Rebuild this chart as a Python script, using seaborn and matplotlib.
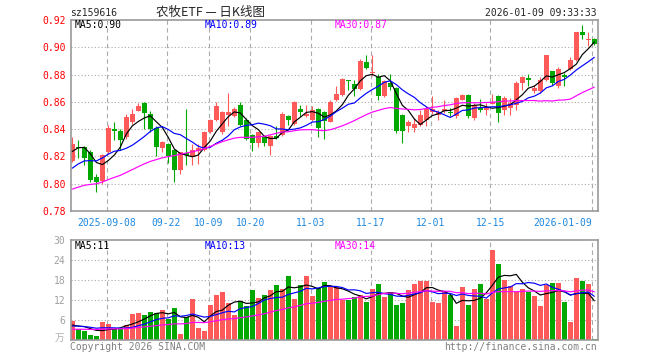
import numpy as np
import pandas as pd
import matplotlib
matplotlib.use("Agg")
import matplotlib.pyplot as plt
import seaborn as sns

sns.set_style("white")
plt.rcParams['font.family'] = ['DejaVu Sans Mono', 'Noto Sans CJK SC']

# ---------------- data ----------------
code = "sz159616"
title = "农牧ETF — 日K线图"
stamp = "2026-01-09 09:33:33"

tick_index = [6, 16, 23, 30, 40, 50, 60, 70, 87]
tick_labels = ["2025-09-08", "09-22", "10-09", "10-20", "11-03",
               "11-17", "12-01", "12-15", "2026-01-09"]

opens = [
    0.817, 0.827, 0.827, 0.823, 0.805, 0.802, 0.823, 0.840, 0.839, 0.834,
    0.845, 0.853, 0.859, 0.851, 0.841, 0.826, 0.829, 0.8245, 0.810, 0.8225,
    0.8197, 0.8241, 0.8248, 0.8376, 0.8469, 0.838, 0.8506, 0.8498, 0.8579, 0.8469,
    0.8359, 0.8298, 0.8342, 0.8278, 0.8353, 0.836, 0.8493, 0.844, 0.855, 0.8493,
    0.8469, 0.855, 0.8522, 0.8456, 0.8616, 0.8653, 0.8758, 0.8733, 0.8697, 0.889,
    0.8812, 0.8783, 0.8643, 0.8739, 0.8702, 0.8506, 0.8425, 0.8408, 0.8432, 0.8469,
    0.8523, 0.8506, 0.853, 0.8525, 0.8493, 0.8616, 0.8653, 0.8481, 0.8555, 0.8537,
    0.8584, 0.8645, 0.8537, 0.8555, 0.858, 0.8739, 0.8776, 0.8677, 0.8677, 0.8763,
    0.8824, 0.8714, 0.88, 0.8842, 0.8905, 0.9113, 0.9055, 0.9062]
closes = [
    0.829, 0.826, 0.819, 0.803, 0.801, 0.821, 0.841, 0.839, 0.832, 0.849,
    0.851, 0.857, 0.852, 0.840, 0.827, 0.8305, 0.820, 0.810, 0.823, 0.821,
    0.8248, 0.8263, 0.8376, 0.8469, 0.8567, 0.8522, 0.8523, 0.855, 0.8432, 0.8327,
    0.8298, 0.8376, 0.8302, 0.8353, 0.8335, 0.8513, 0.8464, 0.8601, 0.8522, 0.8513,
    0.8542, 0.8405, 0.846, 0.8601, 0.866, 0.8768, 0.8751, 0.8694, 0.8897, 0.8849,
    0.8817, 0.8645, 0.8752, 0.871, 0.8383, 0.8385, 0.8456, 0.8439, 0.8506, 0.8548,
    0.8548, 0.8523, 0.855, 0.852, 0.8628, 0.8653, 0.8493, 0.8579, 0.8537, 0.8562,
    0.8596, 0.8518, 0.8628, 0.8592, 0.874, 0.8783, 0.8758, 0.8702, 0.8763, 0.8947,
    0.8739, 0.8842, 0.8783, 0.8905, 0.9113, 0.9089, 0.9057, 0.9027]
highs = [
    0.834, 0.832, 0.828, 0.825, 0.807, 0.822, 0.843, 0.845, 0.840, 0.851,
    0.855, 0.859, 0.860, 0.853, 0.842, 0.831, 0.830, 0.8255, 0.8235, 0.855,
    0.8292, 0.8292, 0.8388, 0.8476, 0.8599, 0.8535, 0.8665, 0.856, 0.8596, 0.848,
    0.8365, 0.838, 0.836, 0.836, 0.8425, 0.8522, 0.8506, 0.8605, 0.8574, 0.8574,
    0.8572, 0.8555, 0.853, 0.8616, 0.8713, 0.8775, 0.8763, 0.8758, 0.8915, 0.8947,
    0.8947, 0.8807, 0.8758, 0.8807, 0.8706, 0.851, 0.8469, 0.8481, 0.8542, 0.8567,
    0.8645, 0.8537, 0.8616, 0.8555, 0.8636, 0.866, 0.866, 0.859, 0.8621, 0.8592,
    0.866, 0.8652, 0.864, 0.8628, 0.875, 0.8792, 0.8807, 0.8726, 0.878, 0.8947,
    0.8824, 0.8856, 0.8812, 0.8927, 0.9113, 0.916, 0.911, 0.9065]
lows = [
    0.816, 0.819, 0.814, 0.801, 0.794, 0.800, 0.822, 0.832, 0.825, 0.833,
    0.844, 0.853, 0.840, 0.838, 0.820, 0.823, 0.815, 0.8015, 0.807, 0.8138,
    0.8138, 0.8142, 0.8241, 0.8373, 0.8461, 0.8366, 0.842, 0.849, 0.8425, 0.8317,
    0.8243, 0.8268, 0.828, 0.8212, 0.8327, 0.835, 0.8432, 0.8432, 0.8498, 0.8489,
    0.846, 0.8345, 0.8327, 0.845, 0.8605, 0.8645, 0.8689, 0.8645, 0.869, 0.8842,
    0.8787, 0.8616, 0.8635, 0.8689, 0.8371, 0.8302, 0.8376, 0.8376, 0.8425, 0.842,
    0.8513, 0.8464, 0.852, 0.8493, 0.848, 0.861, 0.8481, 0.847, 0.8523, 0.8506,
    0.8584, 0.8456, 0.8506, 0.8506, 0.854, 0.8689, 0.8714, 0.8665, 0.8665, 0.8755,
    0.8726, 0.8705, 0.8719, 0.8835, 0.8898, 0.9062, 0.9008, 0.9015]
volumes = [  # 万
    5.8, 3.2, 2.8, 1.5, 1.2, 5.4, 4.8, 3.4, 3.4, 4.5,
    7.8, 8.2, 7.4, 8.4, 8.0, 9.0, 6.4, 9.6, 1.8, 6.8,
    12.3, 3.6, 2.8, 10.5, 13.5, 14.4, 11.0, 7.5, 11.8, 10.2,
    15.0, 12.6, 13.5, 15.0, 16.5, 15.3, 19.2, 12.3, 16.5, 19.2,
    13.2, 15.5, 17.4, 16.2, 15.8, 12.0, 12.0, 12.8, 13.4, 11.5,
    15.3, 16.8, 13.0, 14.4, 10.5, 11.2, 15.0, 16.8, 17.7, 17.7,
    11.5, 11.1, 14.7, 13.5, 4.2, 15.9, 10.5, 15.3, 16.8, 12.3,
    27.0, 22.8, 18.0, 16.2, 14.4, 15.3, 14.4, 13.2, 10.2, 16.5,
    17.1, 17.1, 11.4, 5.4, 18.6, 17.7, 16.8, 0.3]

# sessions before the visible window (estimated from where the MA lines start)
history_closes = [
    0.781, 0.779, 0.784, 0.786, 0.783, 0.788, 0.790, 0.787, 0.785, 0.789,
    0.792, 0.790, 0.786, 0.788, 0.791, 0.793, 0.789, 0.792, 0.794, 0.799,
    0.795, 0.797, 0.801, 0.803, 0.800, 0.812, 0.818, 0.826, 0.833]
history_volumes = [
    2.1, 3.4, 2.6, 1.9, 2.8, 3.1, 2.2, 2.5, 3.6, 2.9,
    2.4, 1.8, 3.0, 2.7, 2.3, 3.3, 2.6, 2.9, 3.1, 2.8,
    3.6, 4.4, 3.2, 4.1, 4.2, 4.8, 3.5, 4.6, 3.8]

ma_windows = [5, 10, 30]
price_ma_text = ["MA5:0.90", "MA10:0.89", "MA30:0.87"]
vol_ma_text = ["MA5:11", "MA10:13", "MA30:14"]

# ---------------- styling ----------------
RED = "#FF5A5A"
GREEN = "#00A800"
MA_COLORS = {"MA5": "#000000", "MA10": "#0000FF", "MA30": "#FF00FF"}
GRID = "#AAAAAA"
FRAME = "#999999"
DATE_BLUE = "#1E88E0"

W, H = 660, 360
fig = plt.figure(figsize=(W / 100, H / 100), dpi=100)
fig.patch.set_facecolor("white")


def fx(px):
    return px / W


def fy(py):
    return 1 - py / H


L_PX, R_PX = 71, 598
ax = fig.add_axes([fx(L_PX), fy(211), fx(R_PX) - fx(L_PX), fy(20) - fy(211)])
axv = fig.add_axes([fx(L_PX), fy(340), fx(R_PX) - fx(L_PX), fy(240) - fy(340)])

n = len(closes)
idx = np.arange(n)
o, c, h, l = map(np.array, (opens, closes, highs, lows))
up = c >= o
cols = np.where(up, RED, GREEN)


def moving(hist, vals, w):
    s = pd.Series(list(hist) + list(vals)).rolling(w).mean().to_numpy()
    return s[len(hist):]


# ---- candles ----
ax.vlines(idx, l, h, colors=cols, lw=0.8, zorder=2)
body = np.abs(c - o)
bh = np.maximum(body, 0.0006)
bottom = np.minimum(o, c) - (bh - body) / 2
ax.bar(idx, bh, bottom=bottom, width=0.8, color=cols, lw=0, zorder=2)

# ---- price MAs ----
rows = []
for w in ma_windows:
    m = moving(history_closes, closes, w)
    rows.append(pd.DataFrame({"i": idx, "v": m, "ma": f"MA{w}"}))
pdf = pd.concat(rows)
sns.lineplot(data=pdf, x="i", y="v", hue="ma", palette=MA_COLORS, lw=0.85,
             legend=False, errorbar=None, ax=ax, zorder=3)

# ---- volume bars ----
vdf = pd.DataFrame({"i": idx, "vol": volumes,
                    "dir": np.where(up, "up", "down")})
sns.barplot(data=vdf, x="i", y="vol", hue="dir",
            palette={"up": RED, "down": GREEN}, native_scale=True,
            width=0.8, dodge=False, saturation=1, errorbar=None,
            legend=False, ax=axv, zorder=2, linewidth=0)
rows = []
for w in ma_windows:
    m = moving(history_volumes, volumes, w)
    rows.append(pd.DataFrame({"i": idx, "v": m, "ma": f"MA{w}"}))
vmdf = pd.concat(rows)
sns.lineplot(data=vmdf, x="i", y="v", hue="ma", palette=MA_COLORS, lw=0.85,
             legend=False, errorbar=None, ax=axv, zorder=3)

# ---- axes formatting ----
xl = ((L_PX - 72.3) / 6.0, (R_PX - 72.3) / 6.0)
grid_x = [t - 0.3 for t in tick_index]
for a in (ax, axv):
    a.set_xlim(*xl)
    a.set_xlabel("")
    a.set_ylabel("")
    for sp in a.spines.values():
        sp.set_color(FRAME)
        sp.set_linewidth(1.2)
    a.tick_params(length=0)
    for gx in grid_x:
        a.axvline(gx, color=GRID, lw=0.8, ls=(0, (4, 3)), zorder=1)

ax.set_ylim(0.78, 0.92)
yt = np.round(np.arange(0.78, 0.9201, 0.02), 2)
ax.set_yticks(yt)
ax.set_yticklabels([f"{v:.2f}" for v in yt], color="#FF0000", fontsize=7)
for v in yt[1:-1]:
    ax.axhline(v, color=GRID, lw=0.8, ls=(0, (1, 2)), zorder=1)
ax.set_xticks(grid_x)
ax.set_xticklabels(tick_labels, color=DATE_BLUE, fontsize=7)
ax.tick_params(axis="x", pad=5)
ax.tick_params(axis="y", pad=4)
ax.get_xticklabels()[-1].set_horizontalalignment("right")
ax.get_xticklabels()[-1].set_x(grid_x[-1] + 0.5)

axv.set_ylim(0, 30)
vt = [6, 12, 18, 24, 30]
axv.set_yticks(vt)
axv.set_yticklabels([str(v) for v in vt], color="#A0A0A0", fontsize=7)
axv.tick_params(axis="y", pad=4)
for v in vt[:-1]:
    axv.axhline(v, color=GRID, lw=0.8, ls=(0, (1, 2)), zorder=1)
axv.set_xticks([])

# ---- texts ----
fig.text(fx(70), fy(13), code, fontsize=7, va="center", ha="left")
fig.text(fx(210), fy(12), title, fontsize=9, va="center", ha="center",
         family=["Noto Sans CJK SC", "DejaVu Sans"])
fig.text(fx(597), fy(13), stamp, fontsize=7, va="center", ha="right")

ma_x = [75, 205, 335]
for t, x, k in zip(price_ma_text, ma_x, MA_COLORS):
    fig.text(fx(x), fy(25.5), t, fontsize=7, va="center", ha="left",
             color=MA_COLORS[k])
for t, x, k in zip(vol_ma_text, ma_x, MA_COLORS):
    fig.text(fx(x), fy(246), t, fontsize=7, va="center", ha="left",
             color=MA_COLORS[k])

fig.text(fx(64), fy(338), "万", fontsize=7, va="center", ha="right",
         color="#B0B0B0", family=["Noto Sans CJK SC", "DejaVu Sans"])
fig.text(fx(70), fy(347), "Copyright 2026 SINA.COM", fontsize=7,
         va="center", ha="left", color="#808080")
fig.text(fx(597), fy(347), "http://finance.sina.com.cn", fontsize=7,
         va="center", ha="right", color="#808080")

fig.savefig("out.png", dpi=100, facecolor="white")
